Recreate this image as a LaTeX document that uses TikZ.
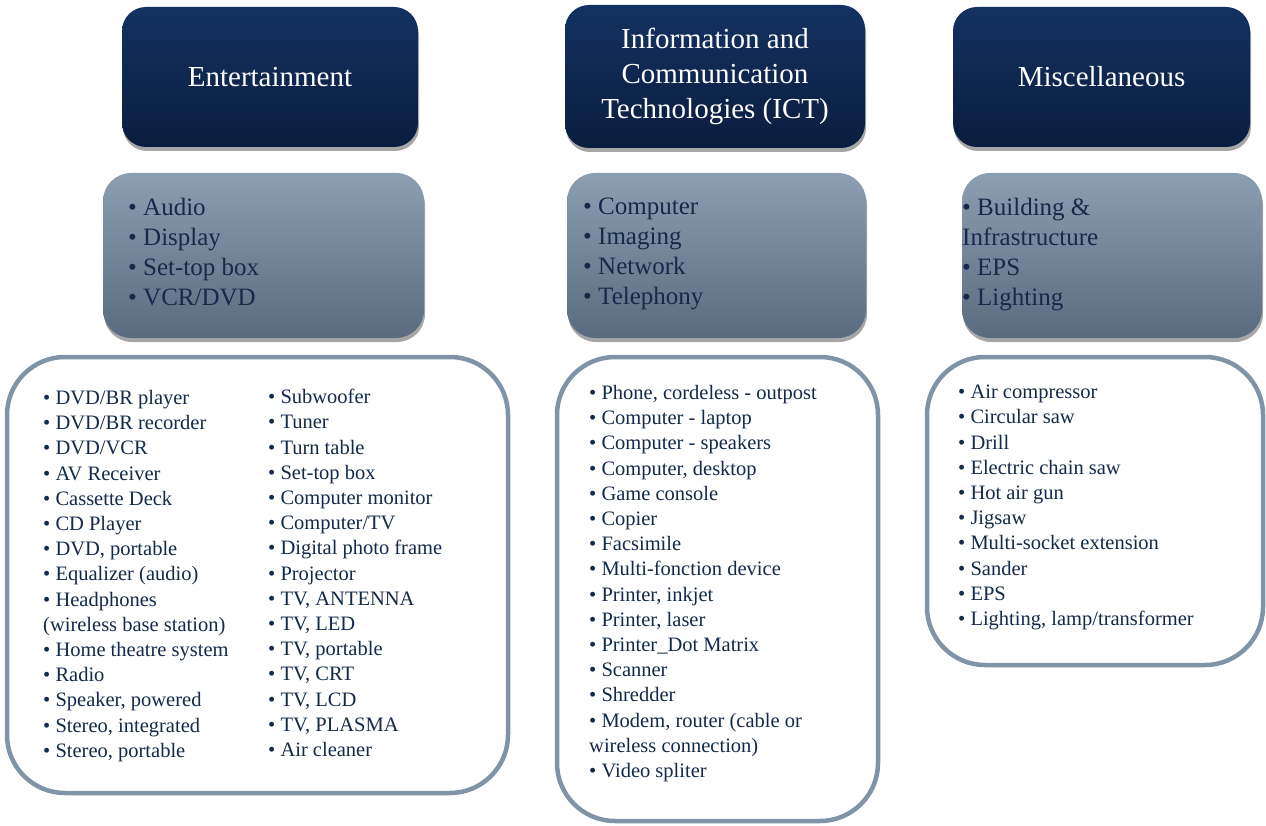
\documentclass[tikz,border=0pt]{standalone}
\usepackage{fontspec}
\setmainfont{Liberation Serif}
\usetikzlibrary{shadows}
\definecolor{navyA}{HTML}{133261}
\definecolor{navyB}{HTML}{0A1D3E}
\definecolor{grayA}{HTML}{8C9EB1}
\definecolor{grayB}{HTML}{596B7E}
\definecolor{frameC}{HTML}{8194A7}
\definecolor{txtC}{HTML}{132A4A}
\begin{document}
\begin{tikzpicture}[x=1pt,y=-1pt,
  catbox/.style={rounded corners=24pt, top color=navyA, bottom color=navyB, draw=none,
    drop shadow={shadow xshift=1pt, shadow yshift=-4pt, opacity=0.35, fill=black}},
  subbox/.style={rounded corners=28pt, top color=grayA, bottom color=grayB, draw=none,
    drop shadow={shadow xshift=1pt, shadow yshift=-4pt, opacity=0.35, fill=black}},
  listbox/.style={rounded corners=58pt, draw=frameC, line width=4.5pt, fill=white},
  cattext/.style={text=white, font=\fontsize{29}{35}\selectfont, align=center},
  subtext/.style={text=txtC, font=\fontsize{25}{30}\selectfont, align=left, anchor=north west, inner sep=0pt},
  listtext/.style={text=txtC, font=\fontsize{20.5}{25.2}\selectfont, align=left, anchor=north west, inner sep=0pt}]
\useasboundingbox (0,0) rectangle (1266,826);

% category boxes
\node[catbox, minimum width=296pt, minimum height=140pt] (ent) at (270,77) {};
\node[catbox, minimum width=300pt, minimum height=143pt] (ict) at (715,76.5) {};
\node[catbox, minimum width=297pt, minimum height=140pt] (misc) at (1101.5,77) {};
\node[cattext] (entT) at (ent.center) {Entertainment};
\node[cattext] (ictT) at (ict.center) {Information and\\Communication\\Technologies (ICT)};
\node[cattext] (miscT) at (misc.center) {Miscellaneous};

% sub-category boxes
\node[subbox, minimum width=321pt, minimum height=165pt] (entS) at (263.5,255.5) {};
\node[subbox, minimum width=299pt, minimum height=165pt] (ictS) at (716.5,255.5) {};
\node[subbox, minimum width=300pt, minimum height=165pt] (miscS) at (1112,255.5) {};
\node[subtext] (entST) at (128,198) {• Audio\\• Display\\• Set-top box\\• VCR/DVD};
\node[subtext] (ictST) at (583,198) {• Computer\\• Imaging\\• Network\\• Telephony};
\node[subtext] (miscST) at (962,198) {• Building \&\\Infrastructure\\• EPS\\• Lighting};

% list boxes
\node[listbox, minimum width=501pt, minimum height=436pt] (entL) at (257.5,575) {};
\node[listbox, minimum width=321pt, minimum height=464pt] (ictL) at (717.5,589) {};
\node[listbox, minimum width=336pt, minimum height=308pt] (miscL) at (1095,511) {};

\node[listtext] (entL1) at (43,390) {• DVD/BR player\\• DVD/BR recorder\\• DVD/VCR\\• AV Receiver\\• Cassette Deck\\• CD Player\\• DVD, portable\\• Equalizer (audio)\\• Headphones\\(wireless base station)\\• Home theatre system\\• Radio\\• Speaker, powered\\• Stereo, integrated\\• Stereo, portable};
\node[listtext] (entL2) at (268,389) {• Subwoofer\\• Tuner\\• Turn table\\• Set-top box\\• Computer monitor\\• Computer/TV\\• Digital photo frame\\• Projector\\• TV, ANTENNA\\• TV, LED\\• TV, portable\\• TV, CRT\\• TV, LCD\\• TV, PLASMA\\• Air cleaner};
\node[listtext] (ictL1) at (589,385) {• Phone, cordeless - outpost\\• Computer - laptop\\• Computer - speakers\\• Computer, desktop\\• Game console\\• Copier\\• Facsimile\\• Multi-fonction device\\• Printer, inkjet\\• Printer, laser\\• Printer\_Dot Matrix\\• Scanner\\• Shredder\\• Modem, router (cable or\\wireless connection)\\• Video spliter};
\node[listtext] (miscL1) at (958,385) {• Air compressor\\• Circular saw\\• Drill\\• Electric chain saw\\• Hot air gun\\• Jigsaw\\• Multi-socket extension\\• Sander\\• EPS\\• Lighting, lamp/transformer};
\end{tikzpicture}
\end{document}
